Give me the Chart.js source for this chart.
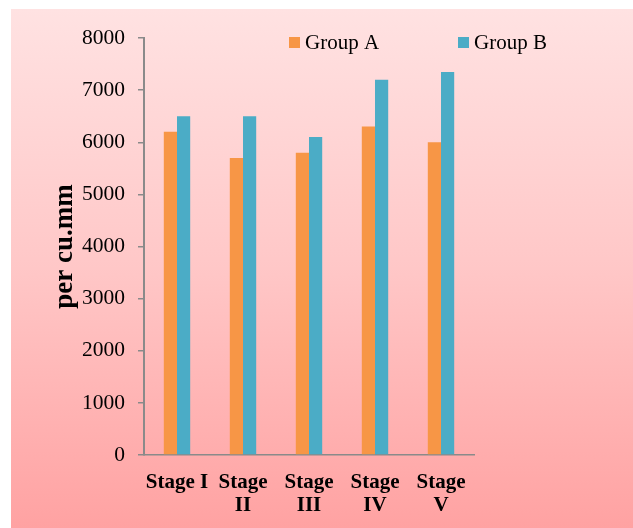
<!DOCTYPE html>
<html>
<head>
<meta charset="utf-8">
<script src="https://cdn.jsdelivr.net/npm/chart.js@4/dist/chart.umd.min.js"></script>
<style>
  html, body { margin: 0; padding: 0; background: #ffffff; }
  #wrap { width: 633px; height: 528px; position: relative; }
</style>
</head>
<body>
<div id="wrap"><canvas id="c" width="633" height="528"></canvas></div>
<script>
// Stage labels (multi-line where the category wraps)
const stages = [["Stage I"], ["Stage", "II"], ["Stage", "III"], ["Stage", "IV"], ["Stage", "V"]];
// Counts per cu.mm
const groupA = [6200, 5700, 5800, 6300, 6000];
const groupB = [6500, 6500, 6100, 7200, 7350];
const seriesNames = ["Group A", "Group B"];
const yTicks = [0, 1000, 2000, 3000, 4000, 5000, 6000, 7000, 8000];

const orange = "#F79646";
const blue = "#4BACC6";
const axisGrey = "#8a8a8a";
const serif = "'Liberation Serif', 'Times New Roman', serif";

// Pink gradient panel behind the plot
const panel = {
  id: "panel",
  beforeDraw(chart) {
    const ctx = chart.ctx;
    ctx.save();
    ctx.fillStyle = "#ffffff";
    ctx.fillRect(0, 0, chart.width, chart.height);
    const g = ctx.createLinearGradient(0, 9, 0, chart.height);
    g.addColorStop(0, "#FFE2E2");
    g.addColorStop(0.5, "#FFC7C7");
    g.addColorStop(1, "#FFA2A2");
    ctx.fillStyle = g;
    ctx.fillRect(11, 9, chart.width - 11, chart.height - 9);
    ctx.restore();
  }
};

// Legend inside the plot area, top right
const insideLegend = {
  id: "insideLegend",
  afterDraw(chart) {
    const ctx = chart.ctx;
    const spots = [289, 458];
    ctx.save();
    ctx.font = "21px " + serif;
    ctx.textBaseline = "alphabetic";
    ctx.textAlign = "left";
    chart.data.datasets.forEach((ds, i) => {
      ctx.fillStyle = ds.backgroundColor;
      ctx.fillRect(spots[i], 37, 11, 11);
      ctx.fillStyle = "#000000";
      ctx.fillText(ds.label, spots[i] + 16, 49);
    });
    ctx.restore();
  }
};

new Chart(document.getElementById("c"), {
  type: "bar",
  data: {
    labels: stages,
    datasets: [
      { label: seriesNames[0], data: groupA, backgroundColor: orange, borderWidth: 0 },
      { label: seriesNames[1], data: groupB, backgroundColor: blue, borderWidth: 0 }
    ]
  },
  options: {
    responsive: false,
    animation: false,
    devicePixelRatio: 1,
    layout: { padding: { top: 38, right: 159, bottom: 13, left: 0 } },
    datasets: { bar: { categoryPercentage: 0.4, barPercentage: 1.0 } },
    plugins: { legend: { display: false }, tooltip: { enabled: false } },
    scales: {
      x: {
        offset: true,
        afterFit(s) { s.height = 60; },
        border: { display: true, color: axisGrey, width: 1.5 },
        grid: { display: true, drawOnChartArea: false, drawTicks: false, color: "rgba(0,0,0,0)" },
        ticks: {
          autoSkip: false, maxRotation: 0, minRotation: 0, padding: 16,
          color: "#000000",
          font: { family: serif, size: 21, weight: "bold", lineHeight: 1.1 }
        }
      },
      y: {
        min: 0, max: 8000,
        afterFit(s) { s.width = 144; },
        afterBuildTicks(s) { s.ticks = yTicks.map(v => ({ value: v })); },
        border: { display: true, color: axisGrey, width: 2 },
        grid: { display: true, drawOnChartArea: false, drawTicks: true, tickLength: 6, color: axisGrey, lineWidth: 1.5 },
        ticks: {
          padding: 13, color: "#000000",
          callback: v => String(v),
          font: { family: serif, size: 21.5 }
        },
        title: {
          display: true, text: "per cu.mm", color: "#000000",
          padding: { top: 49, bottom: 0 },
          font: { family: serif, size: 27, weight: "bold", lineHeight: 1.2 }
        }
      }
    }
  },
  plugins: [panel, insideLegend]
});
</script>
</body>
</html>
